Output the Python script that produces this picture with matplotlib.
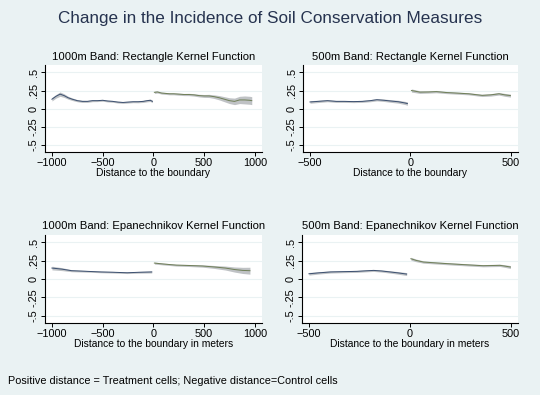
import matplotlib
matplotlib.use("Agg")
import matplotlib.pyplot as plt
import numpy as np

plt.rcParams["font.family"] = ["Liberation Sans", "DejaVu Sans"]

BG = "#eaf2f3"
C_CTRL = "#3c5070"
C_TREAT = "#6f7f58"
C_BAND = "#b4b8bb"
C_TITLE = "#26334f"

# ── panel 1: 1000m, rectangle kernel ────────────────────────────────────────
p1_ctrl_x = [-1000, -960, -920, -880, -840, -800, -750, -700, -650, -600, -550,
             -500, -450, -400, -350, -300, -250, -200, -150, -100, -60, -30, -10]
p1_ctrl_y = [0.13, 0.17, 0.20, 0.18, 0.15, 0.13, 0.11, 0.10, 0.10, 0.11, 0.11,
             0.115, 0.105, 0.10, 0.09, 0.085, 0.09, 0.095, 0.095, 0.10, 0.11, 0.115, 0.10]
p1_ctrl_se = [0.025, 0.025, 0.03, 0.025, 0.02, 0.018, 0.015, 0.015, 0.014, 0.014, 0.013,
              0.013, 0.013, 0.013, 0.013, 0.013, 0.013, 0.013, 0.014, 0.015, 0.016, 0.017, 0.018]
p1_trt_x = [10, 40, 80, 120, 160, 200, 250, 300, 350, 400, 450, 500, 550, 600,
            650, 700, 750, 800, 850, 900, 950, 970]
p1_trt_y = [0.225, 0.23, 0.215, 0.21, 0.205, 0.205, 0.20, 0.195, 0.195, 0.19, 0.18,
            0.175, 0.175, 0.165, 0.15, 0.13, 0.11, 0.10, 0.12, 0.12, 0.115, 0.11]
p1_trt_se = [0.016, 0.015, 0.014, 0.014, 0.014, 0.014, 0.015, 0.015, 0.016, 0.017, 0.018,
             0.02, 0.022, 0.025, 0.03, 0.035, 0.04, 0.045, 0.05, 0.055, 0.055, 0.055]

# ── panel 2: 500m, rectangle kernel ─────────────────────────────────────────
p2_ctrl_x = [-500, -460, -413, -370, -330, -283, -240, -200, -167, -130, -101, -60, -27, -15]
p2_ctrl_y = [0.092, 0.10, 0.11, 0.10, 0.10, 0.097, 0.10, 0.11, 0.123, 0.115, 0.106, 0.095,
             0.078, 0.07]
p2_ctrl_se = [0.018, 0.016, 0.015, 0.014, 0.014, 0.014, 0.014, 0.015, 0.016, 0.017, 0.018,
              0.02, 0.022, 0.024]
p2_trt_x = [5, 25, 47, 90, 129, 180, 227, 290, 357, 400, 441, 470, 498]
p2_trt_y = [0.25, 0.24, 0.228, 0.23, 0.235, 0.222, 0.215, 0.205, 0.183, 0.19, 0.205, 0.19, 0.18]
p2_trt_se = [0.022, 0.02, 0.018, 0.016, 0.016, 0.015, 0.015, 0.015, 0.016, 0.017, 0.018,
             0.02, 0.021]

# ── panel 3: 1000m, Epanechnikov kernel ─────────────────────────────────────
p3_ctrl_x = [-1000, -900, -806, -700, -600, -516, -400, -300, -258, -150, -16]
p3_ctrl_y = [0.15, 0.135, 0.114, 0.108, 0.102, 0.097, 0.093, 0.088, 0.086, 0.092, 0.097]
p3_ctrl_se = [0.025, 0.02, 0.014, 0.012, 0.011, 0.011, 0.011, 0.011, 0.011, 0.012, 0.014]
p3_trt_x = [10, 100, 226, 350, 484, 600, 710, 800, 880, 952]
p3_trt_y = [0.218, 0.205, 0.19, 0.185, 0.178, 0.165, 0.15, 0.13, 0.118, 0.114]
p3_trt_se = [0.014, 0.013, 0.013, 0.014, 0.016, 0.02, 0.027, 0.035, 0.042, 0.047]

# ── panel 4: 500m, Epanechnikov kernel ──────────────────────────────────────
p4_ctrl_x = [-500, -450, -393, -330, -262, -220, -180, -140, -98, -55, -16]
p4_ctrl_y = [0.072, 0.085, 0.097, 0.101, 0.105, 0.112, 0.118, 0.11, 0.097, 0.083, 0.068]
p4_ctrl_se = [0.018, 0.016, 0.015, 0.014, 0.014, 0.014, 0.014, 0.015, 0.016, 0.018, 0.02]
p4_trt_x = [5, 30, 67, 140, 215, 290, 363, 446, 475, 498]
p4_trt_y = [0.277, 0.255, 0.232, 0.218, 0.205, 0.193, 0.182, 0.187, 0.175, 0.164]
p4_trt_se = [0.02, 0.018, 0.016, 0.015, 0.015, 0.015, 0.015, 0.016, 0.018, 0.02]

titles = ["1000m Band: Rectangle Kernel Function",
          "500m Band: Rectangle Kernel Function",
          "1000m Band: Epanechnikov Kernel Function",
          "500m Band: Epanechnikov Kernel Function"]
xlabels = ["Distance to the boundary", "Distance to the boundary",
           "Distance to the boundary in meters", "Distance to the boundary in meters"]
yticks = [-0.5, -0.25, 0, 0.25, 0.5]
ytick_labels = ["-.5", "-.25", "0", ".25", ".5"]

panels = [
    (p1_ctrl_x, p1_ctrl_y, p1_ctrl_se, p1_trt_x, p1_trt_y, p1_trt_se),
    (p2_ctrl_x, p2_ctrl_y, p2_ctrl_se, p2_trt_x, p2_trt_y, p2_trt_se),
    (p3_ctrl_x, p3_ctrl_y, p3_ctrl_se, p3_trt_x, p3_trt_y, p3_trt_se),
    (p4_ctrl_x, p4_ctrl_y, p4_ctrl_se, p4_trt_x, p4_trt_y, p4_trt_se),
]
# [left, bottom, width, height] in figure fraction
rects = [[0.083, 0.615, 0.402, 0.220],
         [0.561, 0.615, 0.398, 0.220],
         [0.083, 0.182, 0.402, 0.223],
         [0.559, 0.182, 0.400, 0.223]]
bands = [1000, 500, 1000, 500]

fig = plt.figure(figsize=(5.4, 3.95), dpi=100, facecolor=BG)
fig.text(0.5, 0.953, "Change in the Incidence of Soil Conservation Measures",
         ha="center", va="center", fontsize=12.3, color=C_TITLE)

for i, (cx, cy, cs, tx, ty, ts) in enumerate(panels):
    ax = fig.add_axes(rects[i], facecolor="white")
    cx, cy, cs = map(np.asarray, (cx, cy, cs))
    tx, ty, ts = map(np.asarray, (tx, ty, ts))
    ax.fill_between(cx, cy - cs, cy + cs, color=C_BAND, alpha=0.85, lw=0, zorder=2)
    ax.plot(cx, cy, color=C_CTRL, lw=0.7, zorder=3)
    ax.fill_between(tx, ty - ts, ty + ts, color=C_BAND, alpha=0.85, lw=0, zorder=2)
    ax.plot(tx, ty, color=C_TREAT, lw=0.7, zorder=3)

    b = bands[i]
    ax.set_xlim(-b * 1.07, b * 1.07)
    ax.set_ylim(-0.6, 0.6)
    if b == 1000:
        ax.set_xticks([-1000, -500, 0, 500, 1000])
    else:
        ax.set_xticks([-500, 0, 500])
    ax.set_yticks(yticks)
    ax.set_yticklabels(ytick_labels, rotation=90, va="center")
    for y in yticks:
        ax.axhline(y, color="#eaf2f3", lw=0.8, zorder=1)
    for s in ["top", "right"]:
        ax.spines[s].set_visible(False)
    for s in ["left", "bottom"]:
        ax.spines[s].set_linewidth(0.8)
    ax.tick_params(labelsize=7.8, length=3, width=0.7, pad=1.5)
    ax.set_xlabel(xlabels[i], fontsize=7.4, labelpad=0)
    ax.set_title(titles[i], fontsize=8.1, pad=4)

fig.text(0.015, 0.035, "Positive distance = Treatment cells; Negative distance=Control cells",
         ha="left", va="center", fontsize=7.8)

fig.savefig("out.png", dpi=100, facecolor=BG)
